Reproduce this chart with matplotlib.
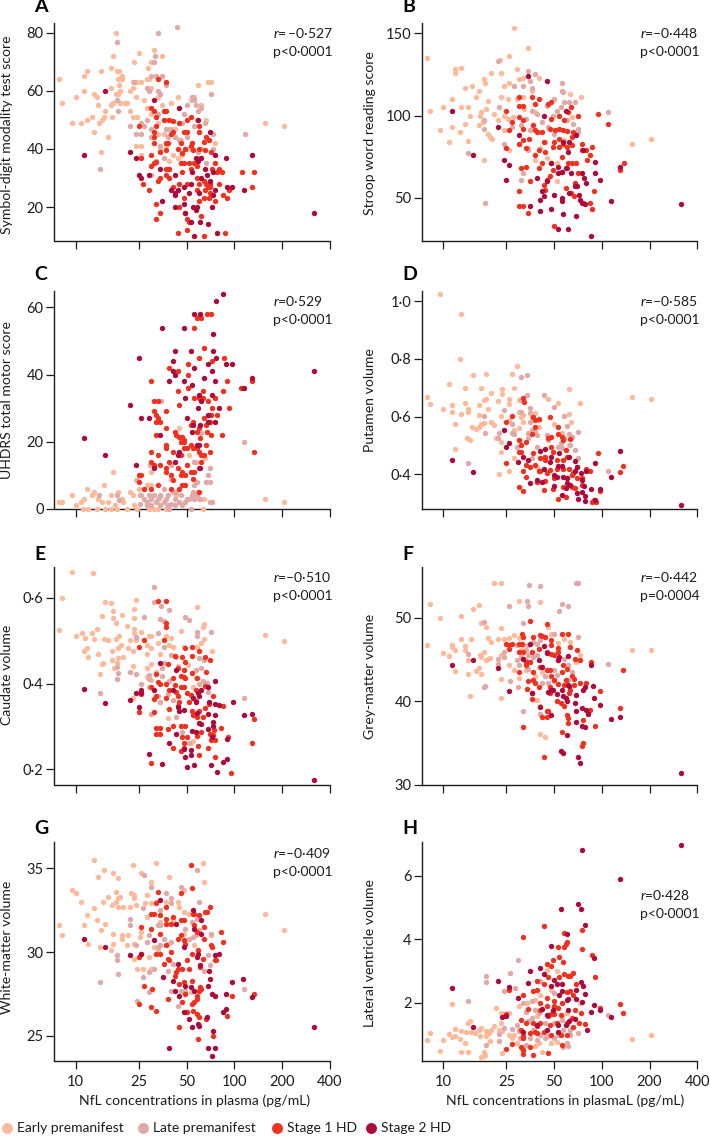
import matplotlib
matplotlib.use("Agg")
import matplotlib.pyplot as plt

plt.rcParams["font.family"] = ["Lato", "DejaVu Sans"]
plt.rcParams["mathtext.fontset"] = "custom"
plt.rcParams["mathtext.it"] = "Lato:italic"
plt.rcParams["mathtext.rm"] = "Lato"

# (NfL pg/mL, score), one list per group
a_early = [(7.9,64),(8.2,56),(10,58),(9.5,49),(10.9,49),(11.3,60),(11.3,65),(11.8,67),(11.8,50),(12.7,51),(13,59),(13.7,58),(13.1,46),(13.9,55),(14.5,67),(14.1,49),(14.6,50),(15,51),(15.4,53),(14.5,39),(16,44),(16.7,68),(16.7,61),(16.7,55),(17.3,56),(17,51),(17.3,72),(18,80),(18.3,67),(18.8,67),(18.5,64),(19,60),(19.5,65),(19.5,64),(18.8,62),(18.5,59),(18,59),(19,56),(20.5,56),(21,56),(22,60),(23,63),(23.5,70),(25,73),(24.5,63),(26,63),(28,64),(28.5,68),(31,74),(30,70),(29,64),(30,61),(33,58),(35,72),(23,61),(24,58),(22,53),(23,51),(24.5,51),(24,41),(26,41),(26,38),(27,57),(28,54),(30,52),(33,49),(35,55),(38,50),(40,56),(44,58),(42,47),(38,47),(36,45),(33,45),(34,40),(37,41),(41,38),(47,38),(39,36),(44,37),(50,40),(53,57),(62,55),(68,63),(71,63),(59,62),(56,58),(66,50),(75,42),(46,43),(156,49),(205,48)]
a_late = [(18.3,77),(18.4,53),(18.2,57),(14.3,33),(33,80),(43.5,82),(31.5,72),(31,70),(23.5,63),(30,65),(32,65),(35,65),(37,62),(33,60),(34,59),(28,61),(29,60),(22,48),(26,49),(26,45),(24,45),(28,50),(27,48),(30,47),(30,44),(33,52),(36,50),(37,47),(40,47),(38,44),(42,44),(45,43),(50,55),(48,52),(54,58),(56,57),(57,55),(59,53),(62,54),(58,50),(56,48),(60,46),(65,49),(71,59),(73,45),(47,49),(50,44),(54,40),(59,39),(62,40),(60,37),(66,35),(73,40),(116,45),(34,41),(30,31),(32,36),(36,37)]
a_stage1 = [(33,64),(37,63),(25,48),(30,54),(31,53),(32,51),(36,53),(37,53),(32,48),(36,50),(38.5,50),(41,49.5),(45,49),(50,50),(53,51),(60,48),(59.5,46),(48,46),(50,46),(41,46),(40,45),(31,46),(31,44),(31,42),(37,42),(38,42),(46,42),(54,42),(53,41),(64,42.5),(66,44),(69,43),(71,39),(65,39.5),(34,39),(37,39.5),(44,40),(47,38.5),(49,40),(55,39.5),(60,40),(30,38),(26,37),(32,35.5),(31,35),(30,34),(37,33),(39,33),(46,35),(48,35),(52,35),(56,35),(58,34),(75,35),(72,33),(53,33),(47,32),(37,31),(34,30),(33,29),(39,30),(58,30),(64,29),(66,28),(70,28),(80,33),(83,32),(78,32),(112,32),(133,32),(26.5,28),(29,26),(41,27),(45,28),(50,28),(60,28),(68,27),(70,27),(65,26),(58,26),(70,25),(48,23),(60,22),(64,23),(69,23),(75,22),(80,28),(90,23),(85,24),(92,26),(130,27),(32,21),(34,18),(32,16),(45,20),(50,16),(52,15),(62,17),(44,11),(50,12),(64,10),(87,11),(49,18)]
a_stage2 = [(11.3,38),(15.4,60),(22,39),(24,37),(25,31),(26,30),(29,31),(31,57),(45,54),(59,50),(70,46),(76,38),(89,37),(130,38),(35,22),(34,33),(42,31),(40,26),(42,25),(42,24),(44,26),(48,27),(54,32),(52,25),(53,28),(60,25),(62,30),(65,33),(59,36),(62,37),(57,37),(67,31),(70,29),(76,26),(73,32),(73,24),(90,27),(97,27),(115,26),(48,21),(49,18),(42,20),(55,20),(57,19),(58,20),(53,15),(61,15),(68,14),(78,11),(56,10),(72,20),(316,18)]

b_early = [(7.9,135),(8.2,103),(9.5,91),(10,105),(10.9,84),(11.3,110),(11.3,93),(11.8,128),(11.8,126),(12.9,129),(12.7,90),(13,105),(14.3,105),(14.3,84.5),(14.7,100),(13.8,117),(15.2,118),(13.7,95),(16,111),(16.8,115),(17,100),(17.2,102),(16.7,94),(17.8,96),(18.1,122),(18.3,120),(18.5,104),(18,73),(19,109),(19,89),(20,126),(19.8,87),(20.2,86),(21,101),(22,97),(23,126),(22.7,134),(26,136),(23,111),(24,118),(26,120),(29,128),(28,153),(34,141),(30,122),(32,123),(24,100),(25.5,98),(27.5,99),(24,91),(26,79),(32,111),(25.5,110),(29,110),(40,123),(36,115),(38,102),(32.5,104),(38,73),(45,74),(52,71),(63,113),(74,111),(65,99),(156,83),(205,86),(52,60),(41,80),(34,80),(58,85)]
b_late = [(22,133),(18,97),(18,92),(14.3,77),(18.4,47),(22.5,105),(24,83),(27,93),(34,127),(38,125),(35,121),(56,120),(56,115),(57,114),(110,102),(28,118),(32,118),(36,117),(32,65),(31,61),(58,108),(50,110),(62,108),(68,108),(45,106),(52,103),(55,105),(49,100),(42,96),(33,98),(36,92),(35,91),(31,94),(30,83),(40,90),(46,93),(71,92),(71,90),(66,95),(60,97),(50,89),(34,79),(44,84),(36,103),(39,101)]
b_stage1 = [(25,103),(26,91),(27,96),(25,80),(30,111),(30,106),(32,106),(30,99),(32,97),(36,111),(38,107),(40,110),(46,107),(48,108),(64,105),(71,100),(94,101),(110,95),(48,98),(54,100),(58,97),(61,102),(32,92),(37,94),(38,91),(39,90),(42,90),(47,92),(51,91),(54,92),(57,91),(60,90.5),(66,90),(32,85),(34.5,86),(30,83),(33,80),(38,76),(43,84),(50,84),(54,86),(57,83),(65,87),(75,83),(40,79),(44,78),(49,81),(54,81),(60,81),(65,82),(75,79),(80,79),(87,81),(84,76),(81,73),(56,75),(42,71),(48,71),(61,71),(65,71),(69,71),(33,69),(31,68),(40,68),(49,67),(56,66),(60,68),(71,65),(47,63),(45,61),(43,58),(35,60),(30,54),(44,55),(59,56),(64,53),(67,51),(89,54),(30,45),(32,45),(34,41),(84,47),(76,47),(87,43),(130,67),(138,71),(50,33),(68,59)]
b_stage2 = [(11.3,103),(15.4,76),(24,73),(26,70),(25,61),(22,93),(30,88),(34,124),(45,121),(43,100),(59,103),(69,88),(57,84),(62,84),(61,78),(76,79),(48,71),(53,69),(53,65),(56,66),(59,68),(64,65),(75,65),(77,62),(90,72),(90,65),(97,61),(80,59),(39,62),(45,60),(42,54),(41,49),(43,51),(50,52),(56,50),(56,48),(62,53),(68,57),(70,57),(72,52),(73,49),(75,47),(78,46),(115,48),(130,69),(35,45),(41,42),(48,43),(57,40),(69,39),(53,31),(61,31),(85,27),(316,46)]

c_early = [(7.9,2),(8.2,2),(9.5,4),(10,1),(10.9,2),(11.3,3),(11.2,0),(11.9,0),(11.8,6),(12.7,4),(13,5),(13.6,0),(13.9,3),(14.6,2),(15,7),(15.4,0),(15.9,2),(16.7,4),(16.7,0),(17.3,11),(17.7,1),(18.5,5),(18.3,0),(19.6,3),(20,2),(21,0),(22,5),(23,4),(23.5,1),(24.5,0),(25,6),(26,4),(28,7),(30,7),(29,0),(31,0),(33,0),(30,11),(34,3.5),(37,0),(45,24),(52,16),(64,3),(63,0),(156,3),(205,2),(49,2),(43,4),(57,14),(65,15),(24,8.5)]
c_late = [(14,4),(18.3,4),(18.9,2.5),(24.5,8.5),(29.5,13),(34.5,32),(40,13),(40,9),(56,14),(58,8),(56,7),(66,8),(68,10),(70,12),(70,8),(70,2),(72,2),(115,20),(62,22.5),(25.5,4),(27,3),(28,2),(25.5,1.5),(28,1),(29,4),(30,3),(31,4),(32,2),(30,1),(33,3),(34,4),(36,6),(36,2),(37,3),(38,4),(39,0),(40,1.5),(41,5),(42,3),(43,5),(45,2),(46,4),(47,1),(49,2),(50,3),(52,3),(53,0),(54,4),(55,5),(56,3),(58,4),(60,3),(61,3),(59,5),(34,1),(38,1),(42,1)]
c_stage1 = [(30,38),(31,32),(33,32),(37,29),(31,29),(32,28),(33,27),(34,26),(32,26),(37,24),(32,22),(42,23),(43,22),(45,21.5),(47,21.5),(48,20.5),(46,20),(48,20),(37,19),(37,18),(30,17),(33,16),(41,17),(46,16),(48,18),(50,18),(53,19),(55,18),(58,18),(60,17),(62,16),(64,16),(70,17),(66,19),(71,22),(83,22),(133,17),(30,14),(31,13),(34,13),(37,12),(37,11),(38.5,14),(44,12),(50,13),(47,11),(46,10),(49,10),(53,11),(56,11),(60,12),(62,14),(25,10),(26,10),(25,8),(27,6),(30,6),(33,7),(40,10),(40,6),(47,7),(49,7),(55,9),(60,5),(60,24),(53,25),(55,26),(58,23),(61,21),(64,27),(66,25),(70,26),(67,23),(71,28),(78,28),(90,38),(93,30),(85,35),(76,33),(68,32),(63,33),(56,33),(60,33),(63,35),(72,30),(45,31),(44,35),(51,36),(44,41),(39,42),(51,43),(51,40),(60,45),(64,48),(72,44),(86,45),(56,54),(58,57),(62,57),(67,58),(71,58),(110,36),(130,38),(45,6),(41,8.5)]
c_stage2 = [(11.3,21),(15.4,16),(22,31),(24,13),(25,45),(26,27),(29,27),(34,22),(31,12),(35,54),(48,54),(41,44),(42,47),(53,47),(41,41),(42,40),(39,38),(48,38),(56,42),(64,39),(72,41),(68,43),(77,45),(89,43),(97,43),(73,47),(73,52),(56,58),(61,58),(77,62),(85,64),(75,38),(54,37),(115,36),(130,39),(316,41),(49,33),(60,34),(62,32),(59,30),(68,28),(72,34),(80,30),(75,26),(68,26),(50,27),(55,25),(54,23),(61,25),(58,19),(60,19),(45,17),(44,16),(42,14),(61,12)]

d_early = [(7.9,.667),(8.2,.644),(9.5,1.023),(10,.626),(10.9,.714),(11.3,.64),(11.3,.617),(11.8,.573),(11.8,.487),(12.9,.954),(12.7,.8),(13,.61),(13.8,.648),(13.7,.698),(14.3,.628),(14.3,.615),(14.2,.525),(14.7,.52),(15.1,.563),(15.4,.745),(16,.556),(16.7,.64),(16.7,.605),(16.7,.565),(17.4,.575),(17.4,.7),(18,.657),(18.5,.66),(18.5,.748),(18,.577),(19.2,.625),(20,.68),(20,.583),(21,.57),(22,.654),(22.6,.401),(23,.513),(23,.479),(23.3,.695),(23.3,.677),(23,.602),(21.5,.525),(26,.412),(26,.66),(26,.644),(26,.588),(28,.698),(27,.749),(29,.774),(28,.553),(30,.56),(30,.617),(31,.6),(30,.657),(32,.605),(32,.583),(28,.456),(38,.611),(40,.588),(40,.565),(46,.66),(53,.646),(50,.574),(56,.542),(62,.694),(62,.61),(64,.58),(73,.646),(156,.669),(205,.661),(39,.427),(62,.5)]
d_late = [(14.3,.438),(18,.602),(18.3,.542),(24,.623),(22.6,.542),(22,.525),(27,.575),(27,.542),(28,.54),(31,.738),(33.5,.744),(33.5,.675),(31,.657),(31,.617),(35,.631),(35,.611),(29,.496),(30,.519),(34,.542),(34,.525),(36,.553),(38,.548),(39,.536),(39,.496),(43,.675),(50,.632),(58,.602),(60,.569),(62,.54),(71,.546),(65,.53),(63,.5),(68,.484),(71,.458),(58,.525),(55,.508),(56,.49),(45,.536),(53,.496),(110,.41),(36,.456),(43,.46),(46,.52),(36,.6),(35,.583)]
d_stage1 = [(27,.602),(25,.58),(25,.441),(32,.663),(32.5,.652),(37,.6),(38,.588),(40,.59),(38,.565),(36,.54),(47,.6),(53,.563),(53,.54),(48,.528),(46,.525),(56,.53),(57,.52),(63,.522),(30,.52),(33,.513),(31,.5),(30,.478),(31,.478),(37,.473),(48,.496),(49,.478),(59,.484),(95,.475),(44,.461),(41,.456),(44,.45),(52,.45),(57,.45),(60,.461),(38,.432),(33,.432),(35,.424),(32,.41),(40,.412),(41,.412),(47,.415),(52,.42),(57,.42),(62,.42),(70,.426),(66,.404),(33,.39),(39,.375),(45,.404),(44,.378),(50,.386),(60,.386),(65,.398),(70,.386),(75,.386),(80,.42),(84,.41),(130,.407),(136,.43),(30,.357),(32,.342),(43,.346),(49,.35),(57,.357),(65,.357),(75,.363),(97,.344),(53,.313),(59,.32),(87,.304),(92,.304),(68,.352),(89,.31)]
d_stage2 = [(11.3,.449),(15.4,.408),(24,.555),(25,.496),(26,.507),(29.5,.444),(32,.459),(34,.45),(35,.369),(39,.381),(41,.481),(44,.488),(43,.419),(42,.375),(47,.444),(48,.461),(54,.473),(62,.461),(68,.447),(90,.44),(130,.482),(115,.392),(50,.398),(52,.392),(53,.43),(56,.43),(57,.392),(60,.386),(70,.426),(68,.412),(75,.38),(74,.404),(80,.41),(77,.361),(78,.326),(75,.34),(70,.335),(71,.316),(60,.369),(59,.352),(56,.328),(86,.349),(98,.349),(78,.306),(90,.31),(316,.295),(50,.358),(63,.363)]

e_early = [(7.9,.524),(8.2,.6),(9.5,.66),(10,.511),(11,.517),(11.4,.507),(11.3,.477),(11.8,.484),(11.9,.462),(12.7,.517),(13.1,.505),(13.7,.527),(13.9,.468),(14.6,.446),(14.6,.558),(14.3,.423),(14.9,.447),(15.2,.505),(15.4,.591),(16,.502),(16.7,.588),(17.2,.553),(17.3,.57),(18,.542),(18,.504),(17,.477),(17,.455),(17.4,.437),(18.4,.482),(18.4,.459),(18.2,.447),(18.8,.512),(19.7,.561),(19.4,.49),(19.9,.462),(21,.535),(22,.502),(21.5,.482),(23.5,.574),(24,.595),(23.5,.552),(23.5,.528),(23.5,.517),(23,.477),(23,.44),(26,.521),(24,.502),(28,.489),(30,.482),(28,.469),(28,.436),(30,.445),(29,.511),(30,.511),(33,.494),(34,.469),(37,.51),(40,.506),(39,.49),(41,.486),(46,.523),(48,.486),(58,.58),(63,.533),(64,.539),(64,.505),(62,.494),(72,.476),(58,.486),(156,.514),(205,.499),(44,.441),(38,.319),(53,.26),(55,.265),(51,.444),(57,.412),(28,.416),(30,.408),(32,.428),(55,.393),(23,.366),(12.9,.658)]
e_late = [(14.3,.377),(18.3,.438),(18.5,.424),(18.3,.411),(22,.428),(24,.508),(27,.556),(24,.423),(26,.4),(29,.42),(31,.625),(31,.59),(34.5,.581),(39,.572),(34,.55),(36,.545),(33,.519),(49,.556),(52,.549),(58,.521),(58,.511),(71,.52),(36,.485),(40,.467),(43,.463),(36,.447),(35,.436),(35,.418),(29,.393),(33,.37),(34,.358),(29,.411),(39,.405),(41,.361),(48,.432),(57,.432),(60,.459),(62,.436),(64,.454),(60,.4),(63,.405),(67,.402),(68,.381),(115,.366),(43,.323),(47,.286),(30,.329),(38,.376),(52,.261)]
e_stage1 = [(33,.594),(37,.592),(37,.541),(37,.533),(27,.502),(25,.486),(36,.502),(49,.483),(54,.485),(60,.477),(42,.465),(54,.465),(47,.461),(65,.463),(70,.455),(49,.451),(38,.445),(44,.436),(48,.432),(66,.426),(32,.423),(41,.412),(46,.418),(48,.416),(49,.412),(54,.424),(58,.412),(33,.403),(34,.4),(30,.393),(37,.399),(42,.397),(46,.391),(48,.393),(65,.395),(39,.385),(43,.381),(50,.377),(53,.374),(57,.384),(26,.376),(31,.363),(32,.371),(37,.366),(44,.37),(45,.358),(52,.358),(57,.36),(73,.37),(69,.352),(65,.342),(85,.348),(39,.34),(44,.348),(25,.333),(31,.333),(54,.335),(55,.327),(58,.323),(60,.335),(63,.321),(41,.302),(38,.294),(32,.296),(34,.296),(46,.301),(49,.301),(32,.283),(34,.281),(47,.275),(50,.276),(58,.278),(62,.286),(70,.283),(74,.292),(73,.28),(82,.296),(91,.276),(71,.268),(76,.267),(41,.25),(46,.242),(59,.255),(48,.261),(68,.25),(130,.261),(133,.317),(60,.232),(76,.228),(30,.214),(95,.19),(48,.25)]
e_stage2 = [(11.3,.387),(15.4,.355),(22,.362),(24,.378),(26,.384),(26,.377),(25,.345),(29,.236),(35,.212),(34,.449),(43,.431),(75,.405),(68,.391),(62,.384),(59,.377),(60,.371),(55,.366),(57,.356),(41,.384),(31,.385),(44,.346),(45,.335),(48,.338),(58,.332),(68,.329),(76,.326),(69,.358),(76,.353),(80,.351),(98,.356),(115,.326),(130,.328),(60,.307),(62,.306),(73,.311),(68,.294),(73,.3),(54,.288),(57,.286),(43,.283),(39,.261),(72,.275),(90,.271),(48,.248),(53,.244),(53,.234),(49,.228),(50,.204),(56,.21),(90,.224),(85,.216),(71,.21),(78,.193),(316,.174)]

f_early = [(7.9,46.7),(8.2,51.6),(9.5,50),(10,45.8),(10.9,45.4),(11.3,46.7),(11.3,46.5),(11.8,46.1),(11.8,43.6),(12.9,50.2),(13,47.5),(13.7,46.6),(13.8,46.1),(14.3,44.9),(14.3,43.3),(14.7,40.7),(15,47.4),(15.4,51),(16,43.6),(16.7,51.5),(16.7,44),(17,45.5),(17.2,45.3),(17.2,43.3),(17.4,49.4),(18,45.9),(18.5,48.9),(18.5,44.9),(19,45.1),(19.7,45.2),(19.2,47.6),(20,47.1),(21,54.2),(23,54.2),(22,47.5),(23,48.8),(23,42.7),(23,40.4),(23,45.6),(24,47.4),(26,44.4),(26,47.6),(28,47.9),(28,43.7),(30,52),(30,42.8),(30,47.6),(31,46.1),(32,46.7),(32,45.1),(41,51.9),(46,48.9),(38,40.2),(39,40.2),(41,36.1),(44,35.7),(48,48),(53,47),(58,47.5),(63,47.1),(73,45.6),(156,46.2),(205,46.1),(41,39.4),(42,43.5),(50,42.4),(69,44.7),(38,43),(33,43.7)]
f_late = [(14.3,45.7),(18,49.5),(18,41.7),(18.2,41.8),(22,45.1),(22,44.5),(24,45.3),(26,51.4),(26.5,42.4),(29.5,41.7),(32,49.4),(33.5,52),(34,51.4),(34.5,53.9),(41,53.8),(61,51.4),(56,51.6),(54,50.8),(69,54.1),(71,54.2),(50,48),(71,47.7),(110,44.5),(32,38.9),(41,38.5),(29,44.9),(30,44.3),(31,45.3),(33,44.9),(33,46.1),(34,46.7),(37,47.1),(39,46.9),(41,47.3),(37,45.3),(39,45.5),(34,43.9),(42,42.2),(46,42.2),(44,43),(50,43.7),(52,43.1),(53,45.3),(58,45.1),(61,44.3),(65,43.5),(61,42.5),(69,44.9),(24,45.9),(29,46.7),(34,45.5)]
f_stage1 = [(25,46.9),(26,46.7),(27,46.9),(26,46.3),(31.5,48),(32,47.7),(30,46.9),(31.5,46.9),(30,45.9),(32,45.9),(35,49.6),(45,49.3),(37,47.7),(41,47.9),(42,47.8),(43.5,47.7),(48,47.3),(56,48),(61,48),(48,46.7),(53,46.4),(53,45.9),(40,46.3),(36,45.9),(45,45.9),(48,45.7),(50,45.5),(33,44.7),(33,44.3),(30,43.5),(37,43.5),(35,44.7),(41,44.1),(45,43.8),(47,43.7),(53,44.9),(57,44.3),(56,43.5),(60,43.9),(63,46.5),(70,46.1),(68,45.1),(73,44.9),(86,44.7),(136,43.7),(65,43),(67,42.7),(59,42.6),(37,42.5),(38,42.2),(40,41.7),(34,42.4),(48,43),(50,42.5),(47,41.7),(53,42.1),(58,42),(67,41.9),(73,42.2),(80,42.2),(97,41.2),(33.5,41.5),(36,41),(47,41),(52,40.1),(55,39.8),(36,40.3),(58,39.4),(60,38.4),(45,38.9),(46,38.8),(42,38.1),(45,38.1),(61,38),(76,37.8),(84,39),(90,37.1),(130,39.2),(61,37.4),(56,36.3),(32,36.9),(43,33.4),(76,35),(75,34.7),(62,41),(63,41.4)]
f_stage2 = [(11.3,44.3),(15.4,44.9),(22,44),(26,41.2),(35,46.8),(32,45.1),(40,45),(42,44.1),(43,46.6),(45,45.8),(54,45.3),(53,44.9),(61,45.4),(86,44.4),(61,42),(62,41.8),(56,41.4),(49,41.4),(48,41.3),(46,41.1),(52,40.9),(57,40.6),(59,40.4),(60,40.1),(69,40.8),(68,39.8),(69,38.8),(75,39.2),(79,39),(82,38.5),(76,41.4),(78,41.7),(88,41.8),(89,40.4),(97,39.6),(115,37.9),(130,38.1),(69,37.5),(75,37.1),(78,36.9),(41,39.3),(48,38.4),(60,36),(55,34.1),(57,33.8),(71,33.3),(73,32.6),(36,41),(316,31.4)]

g_early = [(7.9,31.6),(8.2,31),(9.5,33.7),(10,33.5),(10.9,33),(11.3,31.6),(11.8,32.2),(11.9,30.5),(13,32.6),(13.1,35.5),(13.9,34.5),(13.7,31.9),(14.2,30.3),(14.5,31.3),(14.8,33),(15.2,34.9),(15.4,31.7),(16,33.3),(16.7,30.1),(17,32.8),(17.2,30.5),(17.3,34.7),(17.3,31.1),(18,33.6),(18,33),(18.4,34.4),(18.4,33.2),(19,33.3),(18.4,32.7),(20,32.7),(19.5,31),(19.5,30.8),(21.3,31),(21,30.4),(22,32.7),(22.5,33.5),(23,35.2),(23.5,33.2),(23.5,33.4),(24,32.8),(23.5,30.5),(23.5,29.6),(24.5,29),(26,34.7),(28,33.4),(27.5,32.9),(28,32.1),(26,31.2),(25.5,30.9),(26.5,29),(30,34.2),(32,35.3),(38.5,34.5),(30,32.9),(32,33),(30,29),(29,29.7),(41,31.9),(39,31.7),(37,33),(44,33),(48,33.7),(45,32.7),(48,32.4),(52,32.3),(63,35.3),(64,34.2),(56,30.4),(53,27.6),(156,32.3),(205,31.3),(71,31),(48,31.1),(34,31.8),(31,30.3),(33,30.1)]
g_late = [(14.3,28.2),(18.3,29.8),(18.3,29.5),(18.5,28.7),(22,31.6),(22,32),(24,30.4),(27,34.6),(30,33.9),(26.5,32.6),(24.5,27.1),(29,27.6),(26.5,28.5),(29,28.8),(31,29),(46,33.9),(58,34.9),(60,33),(37,33.5),(40,33.2),(40,32.9),(34,32.5),(33,31.6),(34,31.6),(29,31),(28,30.6),(36,30.8),(38,30.5),(40,30.6),(33,30.3),(34,30.4),(38,28.9),(41,29.3),(40,27.7),(44,26.8),(49,31.4),(52,30.8),(55,30.9),(57,31),(60,31.3),(54,31.8),(58,32),(71,31.1),(70,29.2),(64,28.9),(68,29.8),(115,27.8),(49,27.7),(46,27.7)]
g_stage1 = [(53,35.2),(54,33.8),(46,33.5),(33,33.6),(32,32.9),(30,32.3),(31,32.3),(37,32.7),(70,32.7),(67,32.4),(65,32.4),(60,32.2),(55,32.3),(56,32.3),(34,32.2),(41,32.1),(37,32),(46,31.9),(48,31.9),(37,31.7),(40,31.7),(26,31.5),(30,31.4),(34,31.1),(56,31.6),(64,31.5),(58,31.2),(64,30.8),(46,31),(44,30.8),(48,30.7),(49,30.5),(37,30.4),(82,31.2),(85,30.6),(71,30.4),(72,30.3),(59,30.1),(25,29.7),(26,29.9),(32,29.9),(34,29.9),(40,30),(54,29.9),(63,29.6),(75,29.5),(77,29.5),(36,29.3),(39,29.5),(38,29.6),(50,29.5),(44,29),(43,28.8),(47,29),(52,29),(61,29.1),(42,28.6),(54,28.3),(27,28),(30.5,27.8),(45,28.1),(48,28.2),(61,27.9),(60,27.7),(62,27.8),(96,27.4),(133,27.5),(38,27.2),(49,27.5),(25,26.9),(30,26.7),(32,26.5),(58,27.4),(58,27.2),(56,27),(54,26.9),(47,27),(50,26.4),(58,26.3),(60,26.1),(66,26),(90,26.2),(45,25.5),(73,25),(59,24.8),(55,26.5)]
g_stage2 = [(11.3,30.8),(15.4,30.3),(22,29.8),(26,29.9),(31,30.7),(34,33.1),(43,31.7),(55,32.5),(62,31.9),(56,31.4),(62,31.1),(48,30.3),(59,29.9),(58,29.7),(61,29.2),(75,29.8),(80,29.9),(44,29.3),(69,28.9),(35.5,28.5),(41,28.3),(70,28.4),(68,28),(49,28),(53,27.9),(42,27.7),(45,27.4),(56,27.7),(72,27.5),(76,27.4),(88,27.5),(97,28.2),(114,28.4),(130,27.3),(89,26.6),(85,26.4),(48,26.4),(52,26),(54,25.5),(59,25.7),(60,25.6),(67,26.1),(73,25.3),(68,24.3),(76,24.3),(72,23.8),(39,24.3),(316,25.5)]

h_early = [(7.9,.84),(8.2,1.07),(9.5,.48),(10,.84),(10.9,1.03),(11.3,1.98),(11.3,.93),(11.8,1.18),(11.8,.97),(12.7,.88),(12.9,.45),(13,1.13),(13.7,.74),(14.3,1.37),(14.7,1.42),(14.3,.47),(14,1.1),(15,1.1),(15.9,1.05),(17,.95),(17.2,1.21),(16.7,1.14),(18,.47),(18.2,.37),(17.2,.29),(18,.32),(18.5,1.11),(19.5,1.05),(20,1.16),(19.7,.79),(18.5,.95),(21,1.26),(21.5,1.84),(22.6,1.16),(23.5,.42),(23,1.37),(23.5,1.11),(26,1),(26,1.68),(23,1.68),(27,.9),(28,1),(29,.74),(30,1.89),(32,.63),(33.5,2),(38,2.1),(38,.65),(40,.74),(42,.47),(48,.74),(45,3.05),(52,3),(52,.77),(48,2.42),(60,1.68),(73,2),(156,.88),(205,.98),(56,1.58),(63,1),(39,1.58),(41,2.26)]
h_late = [(14.3,2.07),(18.5,2.84),(18.5,2.65),(24,2.37),(26.5,2.94),(28.5,2.47),(29.5,3.34),(18.5,.68),(22.5,1.02),(22.5,.79),(24,1.21),(27,1.19),(29,1.32),(30,1.11),(30.5,.89),(32,2),(33,1.7),(34,1.42),(36,1.53),(36,2.05),(38,1.79),(40,1.68),(37,1.16),(35,.89),(39,.84),(41,1),(44,.89),(46,.95),(41,2.68),(50,2.32),(56,1.47),(57,1.16),(53,1),(50,.89),(63,1.16),(63,1),(57,.63),(61,.65),(60,.74),(71,1.05),(110,1.63),(30,1.16),(33,.68),(44,1.37),(50,1.37)]
h_stage1 = [(32,4.08),(43,4.42),(53,3.77),(58,4.21),(59,3.84),(60,3.9),(58,3.77),(54,3.45),(75,4.28),(75,3.68),(87,3.5),(90,2.83),(49,3.34),(45,3.23),(57,3.3),(48,3.16),(58,2.91),(61,2.86),(63,2.84),(66,2.93),(54,2.81),(46,2.82),(39,2.68),(43,2.58),(37,2.37),(39,2.42),(32,2.26),(26,2.42),(45,2.16),(41,2),(50,2.05),(60,2.35),(63,2.39),(69,2.6),(66,2.26),(56,2),(34,1.81),(25,1.66),(41,1.79),(45,1.9),(50,1.9),(53,1.84),(48,1.66),(50,1.66),(55,1.63),(68,1.77),(74,1.68),(130,1.98),(136,1.68),(97,1.84),(31,1.47),(33,1.37),(31,1.16),(37,1.37),(39,1.26),(41,1.37),(47,1.32),(52,1.37),(65,1.53),(72,1.37),(78,1.35),(32,.95),(35,1.05),(38,1.1),(39,1.05),(43,1.1),(48,1),(55,1),(60,1),(32,.89),(27,.72),(25,.55),(31,.63),(32,.53),(35,.63),(32,.4),(37,.37),(46,.42),(56,.68),(66,1.24),(60,1.37),(46,1.58)]
h_stage2 = [(11.3,2.46),(15.4,1.25),(22,2.69),(23.5,1.56),(25,1.58),(26,2.5),(29.5,2.14),(32,1.1),(35,3),(34,2.62),(41,3.1),(43,2.92),(39,1.3),(42,1.82),(45,1.63),(45,1.16),(48,2.53),(48,3.79),(50,2.71),(52,2.6),(49,1.79),(53,1.32),(53,1.1),(55,4.95),(54,2.26),(56,2.37),(60,2.08),(61,2.13),(61,1.77),(56,2.6),(60,4.18),(59,1.3),(62,1.44),(68,1.49),(74,2.65),(76,2.53),(69,2.42),(69,2.13),(78,2.27),(75,2.02),(89,1.95),(86,1.72),(97,1.79),(81,1.14),(115,1.55),(130,5.9),(71,5.1),(74,4.94),(78,4.46),(75,6.82),(89,3.42),(316,6.95)]

groups = ["Early premanifest", "Late premanifest", "Stage 1 HD", "Stage 2 HD"]
colors = ["#FDB999", "#E0A8A6", "#F0311F", "#AD0B3B"]
x_ticks = [10, 25, 50, 100, 200, 400]

W, H = 710, 1139
fig = plt.figure(figsize=(W / 100, H / 100), dpi=100)
ink = "#1c1c1c"


def px(x, y):
    return x / W, 1 - y / H


def panel(letter, data, ylabel, yticks, ylabels, ylim, box, label_y, stat_y, r, p, letter_y, show_x=False):
    left, top, right, bottom = box
    ax = fig.add_axes([left / W, 1 - bottom / H, (right - left) / W, (bottom - top) / H])
    for pts, col in zip(data, colors):
        xs, ys = zip(*pts)
        ax.scatter(xs, ys, s=15, color=col, linewidths=0, clip_on=False, zorder=3)
    ax.set_xscale("log")
    ax.set_xlim(7.37, 400)
    ax.set_ylim(*ylim)
    ax.set_xticks(x_ticks)
    ax.set_xticks([], minor=True)
    ax.set_yticks(yticks)
    ax.set_yticklabels(ylabels)
    ax.set_xticklabels([str(t) for t in x_ticks] if show_x else [])
    ax.tick_params(length=5.8, width=0.9, color=ink, labelcolor=ink, labelsize=10.5)
    ax.tick_params(axis="y", pad=2)
    ax.tick_params(axis="x", pad=5)
    ax.spines["top"].set_visible(False)
    ax.spines["right"].set_visible(False)
    ax.spines["left"].set_linewidth(1.0)
    ax.spines["bottom"].set_linewidth(1.0)
    ax.spines["left"].set_color(ink)
    ax.spines["bottom"].set_color(ink)
    lx = 7.5 if left < 300 else 370
    fig.text(*px(lx, label_y), ylabel, rotation=90, ha="center", va="center", fontsize=10.1, color=ink)
    fig.text(*px(left - 20, letter_y), letter, fontsize=14, fontweight="bold", ha="left", va="center", color="black")
    fig.text(*px(right - 57, stat_y), r, fontsize=10, va="center", color=ink)
    fig.text(*px(right - 57, stat_y + 19), p, fontsize=10, va="center", color=ink)
    return ax


lcol, rcol = (54.5, 330), (422.3, 697.3)
row1, row2, row3, row4 = (23, 241), (290.7, 508.7), (566.7, 785), (842.3, 1060.5)


def box(col, row):
    return (col[0], row[0], col[1], row[1])


panel("A", [a_early, a_late, a_stage1, a_stage2], "Symbol-digit modality test score", [20, 40, 60, 80], ["20", "40", "60", "80"],
      (8.3, 83.4), box(lcol, row1), 135, 33, "$\\mathit{r}$=\u2009\u20130\u00b7527", "p<0\u00b70001", 7)
panel("B", [b_early, b_late, b_stage1, b_stage2], "Stroop word reading score", [50, 100, 150], ["50", "100", "150"],
      (23.8, 156.2), box(rcol, row1), 133, 33, "$\\mathit{r}$=\u20130\u00b7448", "p<0\u00b70001", 7)
panel("C", [c_early, c_late, c_stage1, c_stage2], "UHDRS total motor score", [0, 20, 40, 60], ["0", "20", "40", "60"],
      (0, 65), box(lcol, row2), 400, 301, "$\\mathit{r}$=0\u00b7529", "p<0\u00b70001", 274)
panel("D", [d_early, d_late, d_stage1, d_stage2], "Putamen volume", [0.4, 0.6, 0.8, 1.0], ["0\u00b74", "0\u00b76", "0\u00b78", "1\u00b70"],
      (0.281, 1.036), box(rcol, row2), 400, 301, "$\\mathit{r}$=\u20130\u00b7585", "p<0\u00b70001", 274)
panel("E", [e_early, e_late, e_stage1, e_stage2], "Caudate volume", [0.2, 0.4, 0.6], ["0\u00b72", "0\u00b74", "0\u00b76"],
      (0.163, 0.673), box(lcol, row3), 675, 577, "$\\mathit{r}$=\u20130\u00b7510", "p<0\u00b70001", 554.5)
panel("F", [f_early, f_late, f_stage1, f_stage2], "Grey-matter volume", [30, 40, 50], ["30", "40", "50"],
      (30, 56.1), box(rcol, row3), 676, 577, "$\\mathit{r}$=\u20130\u00b7442", "p=0\u00b70004", 554.5)
panel("G", [g_early, g_late, g_stage1, g_stage2], "White-matter volume", [25, 30, 35], ["25", "30", "35"],
      (23.53, 36.55), box(lcol, row4), 947, 853, "$\\mathit{r}$=\u20130\u00b7409", "p<0\u00b70001", 829, show_x=True)
panel("H", [h_early, h_late, h_stage1, h_stage2], "Lateral ventricle volume", [2, 4, 6], ["2", "4", "6"],
      (0.19, 7.05), box(rcol, row4), 953, 895, "$\\mathit{r}$=0\u00b7428", "p<0\u00b70001", 829, show_x=True)

fig.text(*px(195, 1101), "NfL concentrations in plasma (pg/mL)", ha="center", va="center", fontsize=10.1, color=ink)
fig.text(*px(565, 1101), "NfL concentrations in plasmaL (pg/mL)", ha="center", va="center", fontsize=10.1, color=ink)

# legend row along the bottom edge
legend_ax = fig.add_axes([0, 0, 1, 1], facecolor="none")
legend_ax.set_xlim(0, W)
legend_ax.set_ylim(H, 0)
legend_ax.axis("off")
for name, col, cx in zip(groups, colors, [7, 143, 277, 371]):
    legend_ax.scatter([cx], [1128], s=62, color=col, linewidths=0)
    legend_ax.text(cx + 10, 1128, name, va="center", fontsize=10, color=ink)

fig.savefig("out.png", dpi=100)
